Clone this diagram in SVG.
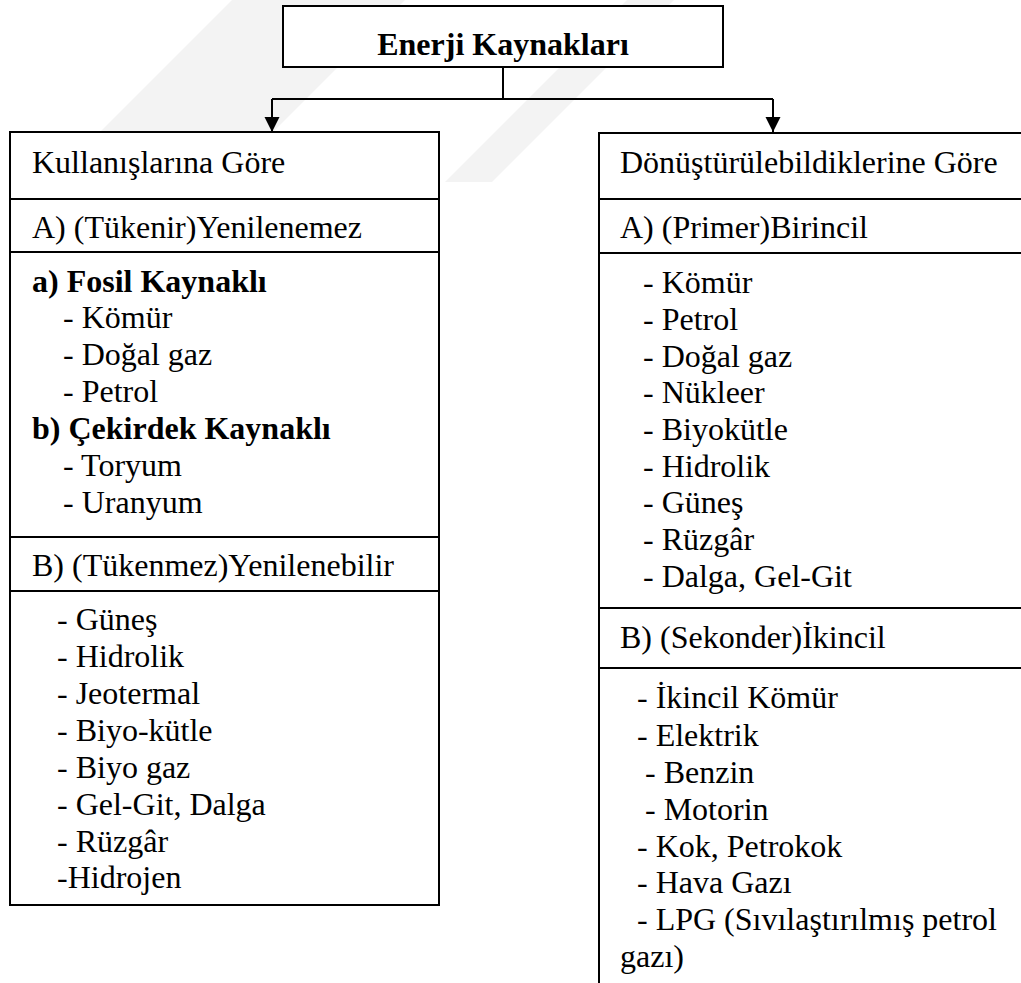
<svg xmlns="http://www.w3.org/2000/svg" width="1021" height="983" viewBox="0 0 1021 983">
<style>
  .box { fill: #ffffff; stroke: #000000; stroke-width: 2; }
  .div { stroke: #000000; stroke-width: 2; fill: none; }
  .t { font-family: "Liberation Serif", "Times New Roman", serif; font-size: 32px; fill: #000000; }
  .b { font-weight: bold; }
  .conn { stroke: #000000; stroke-width: 2; fill: none; }
  .wm { fill: #f3f3f3; stroke: none; }
</style>
<defs>
  <marker id="arr" markerWidth="16" markerHeight="16" refX="15" refY="7.5" orient="auto" markerUnits="userSpaceOnUse">
    <path d="M0,0 L15,7.5 L0,15 Z" fill="#000000"/>
  </marker>
</defs>
<rect x="0" y="0" width="1021" height="983" fill="#ffffff"/>

<g id="watermark">
  <polygon class="wm" points="232,0 405,0 273,132 100,132"/>
  <polygon class="wm" points="445,182 492,182 674,0 627,0"/>
</g>

<g id="connectors">
  <path class="conn" d="M503,67 L503,99"/>
  <path class="conn" d="M272,99 L773,99"/>
  <path class="conn" d="M272,99 L272,132" marker-end="url(#arr)"/>
  <path class="conn" d="M773,99 L773,132" marker-end="url(#arr)"/>
</g>

<g id="root">
  <rect class="box" x="283" y="6" width="440" height="61"/>
  <text class="t b" x="503" y="55" text-anchor="middle">Enerji Kaynakları</text>
</g>

<g id="left">
  <rect class="box" x="10" y="132" width="429" height="773"/>
  <line class="div" x1="10" y1="199" x2="439" y2="199"/>
  <line class="div" x1="10" y1="252" x2="439" y2="252"/>
  <line class="div" x1="10" y1="537" x2="439" y2="537"/>
  <line class="div" x1="10" y1="591" x2="439" y2="591"/>
  <text class="t" x="32" y="173">Kullanışlarına Göre</text>
  <text class="t" x="32" y="238">A) (Tükenir)Yenilenemez</text>
  <text class="t b" x="32" y="292">a) Fosil Kaynaklı</text>
  <text class="t" x="63" y="328">- Kömür</text>
  <text class="t" x="63" y="365">- Doğal gaz</text>
  <text class="t" x="63" y="402">- Petrol</text>
  <text class="t b" x="32" y="439">b) Çekirdek Kaynaklı</text>
  <text class="t" x="63" y="476">- Toryum</text>
  <text class="t" x="63" y="513">- Uranyum</text>
  <text class="t" x="32" y="576">B) (Tükenmez)Yenilenebilir</text>
  <text class="t" x="57" y="630">- Güneş</text>
  <text class="t" x="57" y="667">- Hidrolik</text>
  <text class="t" x="57" y="704">- Jeotermal</text>
  <text class="t" x="57" y="741">- Biyo-kütle</text>
  <text class="t" x="57" y="778">- Biyo gaz</text>
  <text class="t" x="57" y="815">- Gel-Git, Dalga</text>
  <text class="t" x="57" y="852">- Rüzgâr</text>
  <text class="t" x="57" y="888">-Hidrojen</text>
</g>

<g id="right">
  <rect class="box" x="599" y="133" width="500" height="900"/>
  <line class="div" x1="599" y1="199" x2="1021" y2="199"/>
  <line class="div" x1="599" y1="253" x2="1021" y2="253"/>
  <line class="div" x1="599" y1="608" x2="1021" y2="608"/>
  <line class="div" x1="599" y1="668" x2="1021" y2="668"/>
  <text class="t" x="620" y="173">Dönüştürülebildiklerine Göre</text>
  <text class="t" x="620" y="238">A) (Primer)Birincil</text>
  <text class="t" x="643" y="293">- Kömür</text>
  <text class="t" x="643" y="330">- Petrol</text>
  <text class="t" x="643" y="367">- Doğal gaz</text>
  <text class="t" x="643" y="403">- Nükleer</text>
  <text class="t" x="643" y="440">- Biyokütle</text>
  <text class="t" x="643" y="477">- Hidrolik</text>
  <text class="t" x="643" y="513">- Güneş</text>
  <text class="t" x="643" y="550">- Rüzgâr</text>
  <text class="t" x="643" y="587">- Dalga, Gel-Git</text>
  <text class="t" x="620" y="648">B) (Sekonder)İkincil</text>
  <text class="t" x="637" y="708">- İkincil Kömür</text>
  <text class="t" x="637" y="746">- Elektrik</text>
  <text class="t" x="645" y="783">- Benzin</text>
  <text class="t" x="645" y="820">- Motorin</text>
  <text class="t" x="637" y="857">- Kok, Petrokok</text>
  <text class="t" x="637" y="893">- Hava Gazı</text>
  <text class="t" x="637" y="930">- LPG (Sıvılaştırılmış petrol</text>
  <text class="t" x="620" y="967">gazı)</text>
</g>
</svg>
